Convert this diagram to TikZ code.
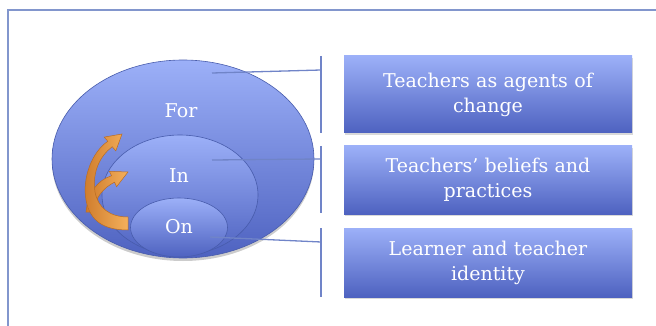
\documentclass[tikz,border=0pt]{standalone}
\usepackage{fontspec}
\setmainfont{DejaVu Serif}
\usetikzlibrary{shapes.geometric,shadows}

\definecolor{shadetop}{RGB}{156,176,248}
\definecolor{shadebot}{RGB}{78,98,192}
\definecolor{rim}{RGB}{72,92,172}
\definecolor{linkblue}{RGB}{112,132,200}
\definecolor{framec}{RGB}{130,150,205}
\definecolor{orlight}{RGB}{244,176,92}
\definecolor{ordark}{RGB}{206,122,42}
\definecolor{oredge}{RGB}{186,108,34}

\begin{document}
\begin{tikzpicture}[x=1pt,y=-1pt,
    ring/.style={ellipse,draw=rim,line width=0.6pt,top color=shadetop,bottom color=shadebot,inner sep=0pt},
    topic/.style={rectangle,top color=shadetop,bottom color=shadebot,minimum width=288pt,text width=270pt,align=center,
        text=white,font=\fontsize{19}{25}\selectfont,drop shadow={opacity=0.3,shadow xshift=1pt,shadow yshift=-2pt}},
    word/.style={text=white,font=\fontsize{19}{24}\selectfont},
    link/.style={draw=linkblue,line width=1.3pt},
    ribbon/.style={draw=oredge,line width=0.5pt,left color=ordark,right color=orlight}]
    \useasboundingbox (0,0) rectangle (656,326);
    \draw[framec,line width=2pt] (7.5,326) -- (7.5,10) -- (656,10);

    \node[ring,minimum width=262pt,minimum height=198pt,drop shadow={opacity=0.4,shadow xshift=0pt,shadow yshift=-3pt}] (for) at (183,159) {};
    \node[ring,minimum width=156pt,minimum height=120pt] (in) at (180,195) {};
    \node[ring,minimum width=97pt,minimum height=59pt] (on) at (179,227.5) {};

    % curved arrows, drawn as filled ribbons
    \path[ribbon] (86,212) .. controls (88,192) and (98,180) .. (111.5,175.8)
        -- (109.4,171.3) -- (128,172) -- (116.6,186.7) -- (114.5,182.2)
        .. controls (103,188) and (95,198) .. (93,212) -- cycle;
    \path[ribbon] (128,230) .. controls (105,230) and (90,222) .. (86,200)
        .. controls (82,178) and (92,152) .. (107.8,141.3)
        -- (104.2,137.1) -- (122,134) -- (115.8,150.9) -- (112.2,146.7)
        .. controls (100,156) and (92,172) .. (95,192)
        .. controls (98,208) and (110,217) .. (128,217) -- cycle;

    \node[word] (forlbl) at (181,111) {For};
    \node[word] (inlbl) at (179,176) {In};
    \node[word] (onlbl) at (179,227) {On};

    \node[topic,minimum height=77pt] (agents) at (488,94.5) {Teachers as agents of\\change};
    \node[topic,minimum height=68pt] (beliefs) at (488,180) {Teachers' beliefs and\\practices};
    \node[topic,minimum height=69pt] (identity) at (488,262.5) {Learner and teacher\\identity};

    \coordinate (b1t) at (321,56);  \coordinate (b1j) at (321,70);  \coordinate (b1b) at (321,133);
    \coordinate (b2t) at (321,146); \coordinate (b2j) at (321,159); \coordinate (b2b) at (321,213);
    \coordinate (b3t) at (321,228); \coordinate (b3j) at (321,242); \coordinate (b3b) at (321,297);
    \coordinate (forpin) at (212,73);
    \coordinate (inpin) at (212,160);
    \coordinate (onpin) at (210,237);
    \draw[link] (b1t) -- (b1b);
    \draw[link] (b2t) -- (b2b);
    \draw[link] (b3t) -- (b3b);
    \draw[link] (forpin) -- (b1j);
    \draw[link] (inpin) -- (b2j);
    \draw[link] (onpin) -- (b3j);
\end{tikzpicture}
\end{document}
